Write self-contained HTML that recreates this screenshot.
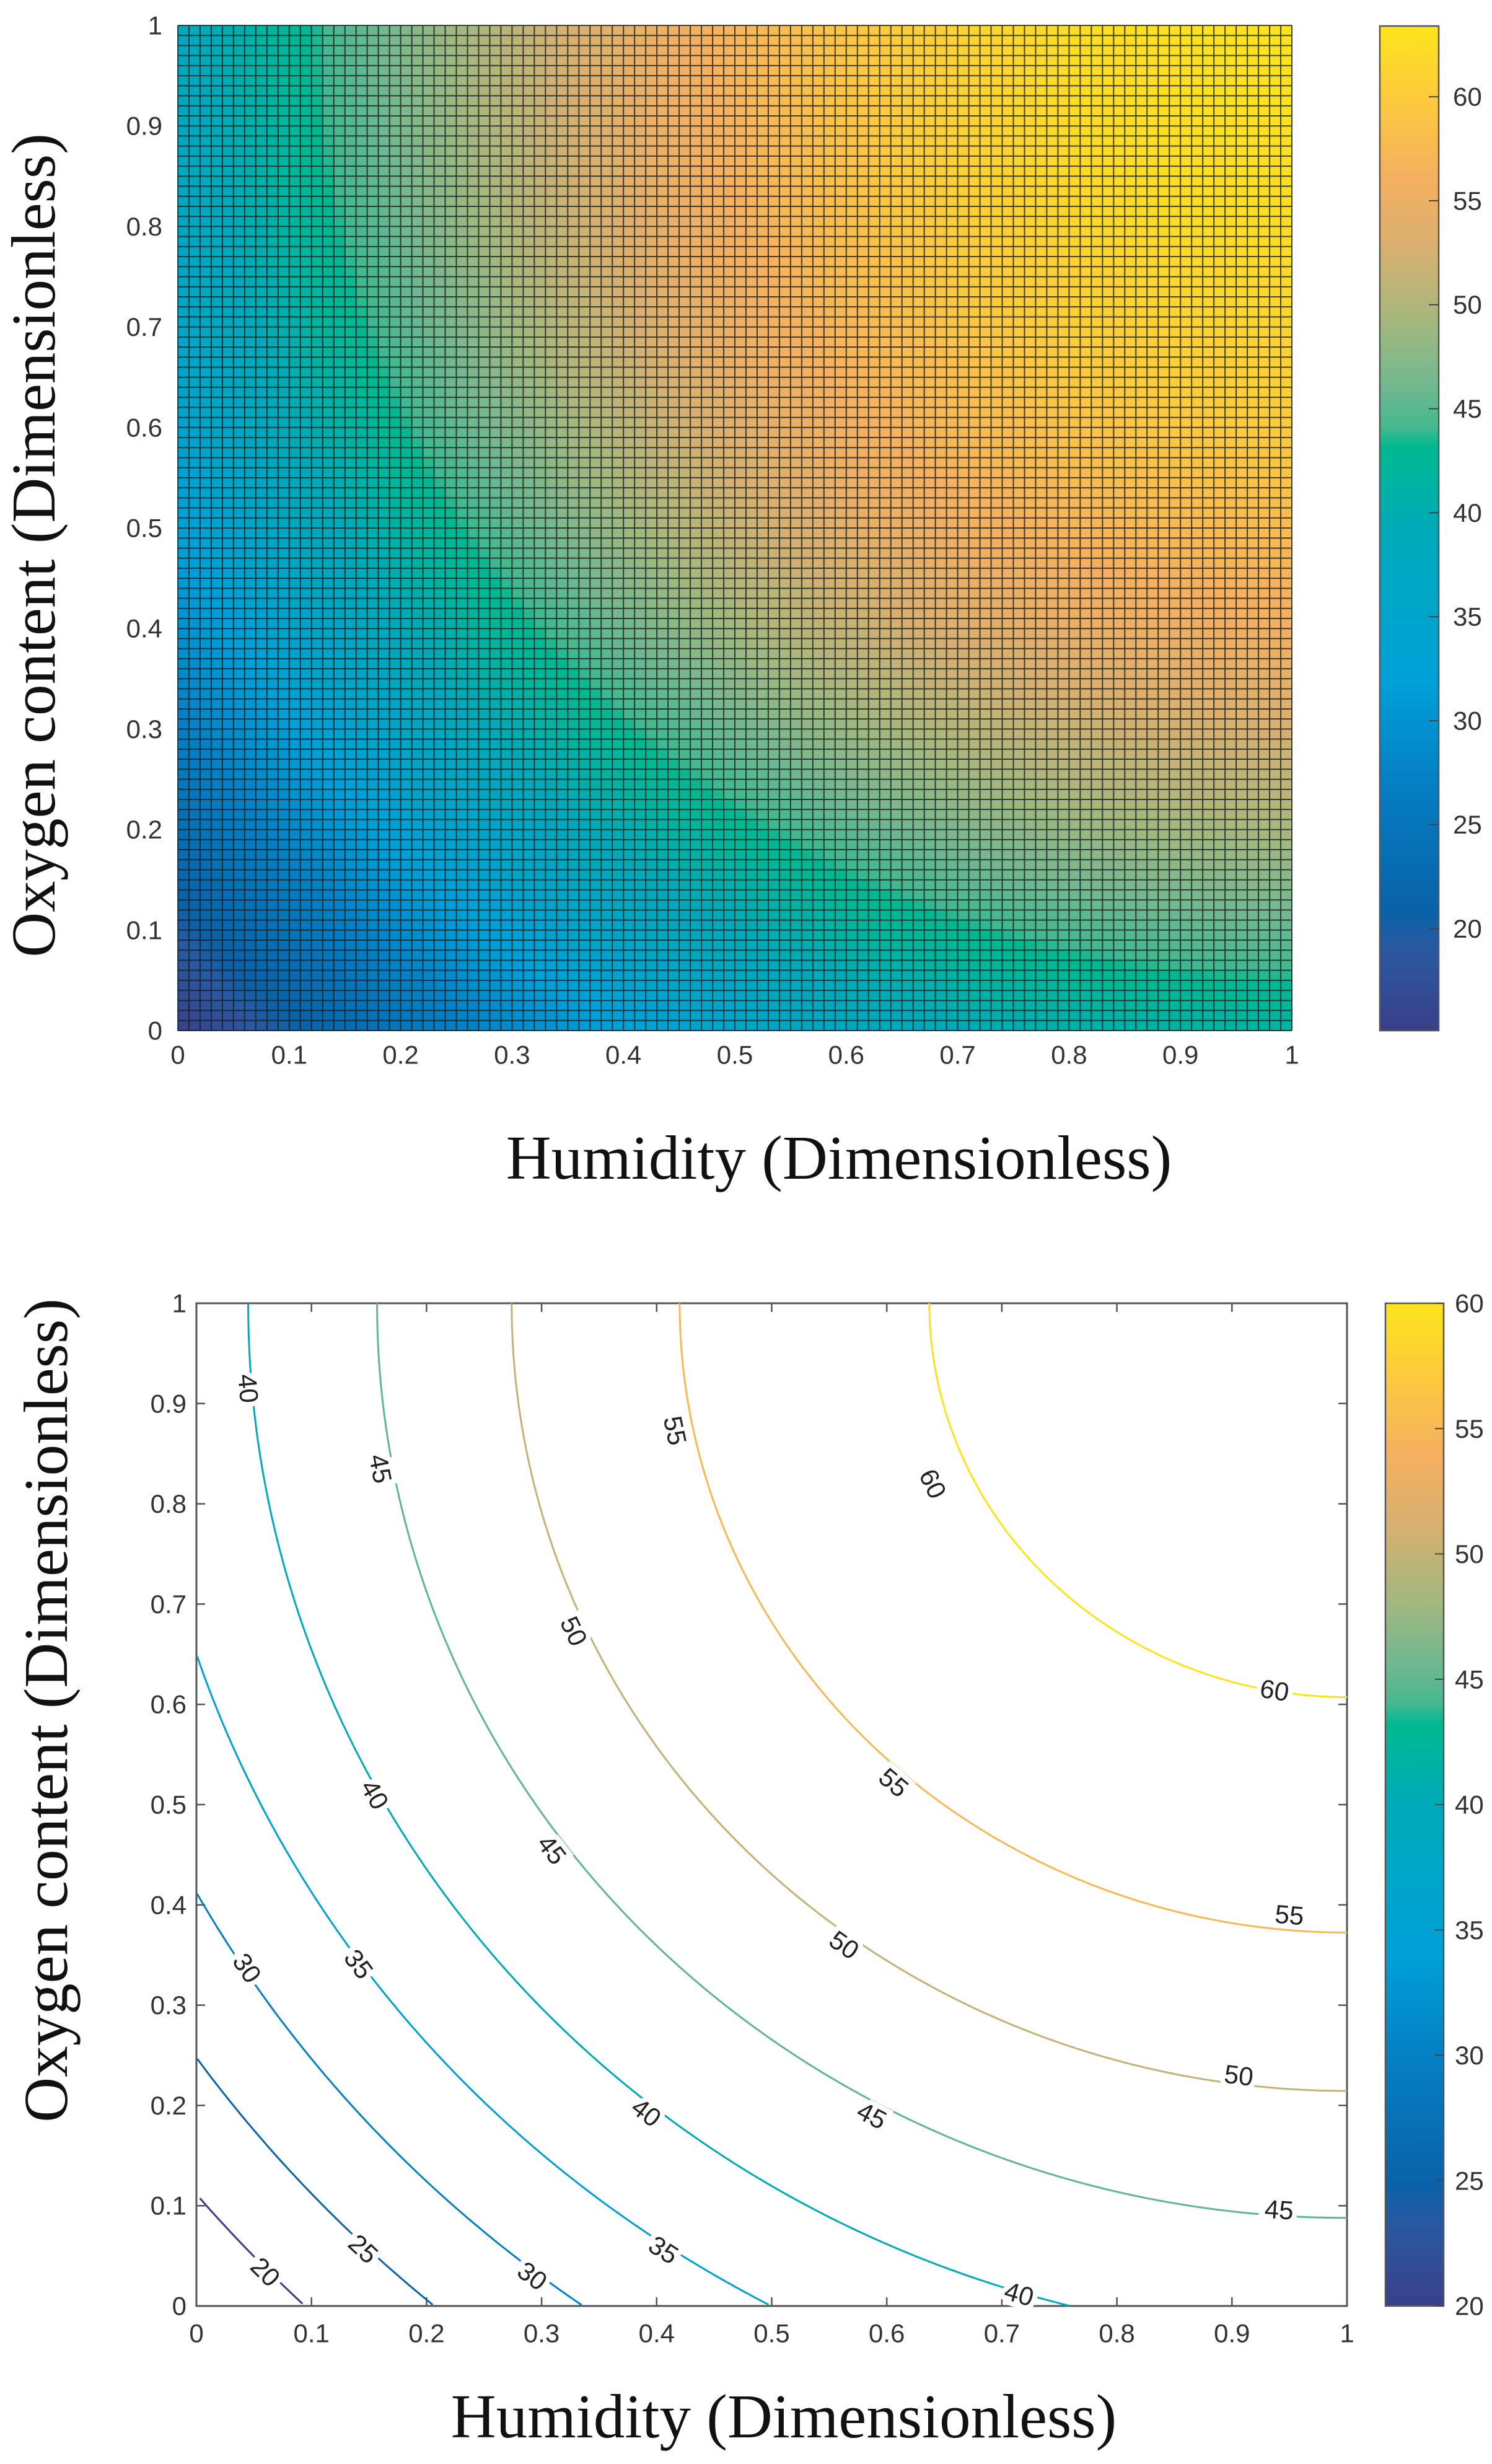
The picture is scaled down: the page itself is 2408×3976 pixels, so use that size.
<!DOCTYPE html>
<html><head><meta charset="utf-8">
<style>
html,body{margin:0;padding:0;background:#fff;}
svg{display:block;}
</style></head>
<body>
<svg id="s" width="2408" height="3976" viewBox="0 0 2408 3976" xmlns="http://www.w3.org/2000/svg">
<defs>
<linearGradient id="cb1" x1="0" y1="1" x2="0" y2="0"></linearGradient>
<linearGradient id="cb2" x1="0" y1="1" x2="0" y2="0"></linearGradient>
</defs>
<g id="heat"></g>
<g id="cont"></g>
<g id="txt" font-family="Liberation Sans, sans-serif" fill="#333"></g>
</svg>
<script>
var stops=[[0,[58,63,138]],[0.08,[42,88,160]],[0.12,[10,98,168]],[0.25,[5,128,196]],[0.35,[0,160,216]],[0.5,[0,170,184]],[0.57,[0,184,150]],[0.585,[0,184,144]],[0.595,[64,184,144]],[0.64,[112,184,144]],[0.7,[160,184,128]],[0.78,[216,176,112]],[0.85,[245,176,96]],[0.92,[252,200,64]],[1,[252,228,28]]];
function cmap(t){t=Math.max(0,Math.min(1,t));for(var i=1;i<stops.length;i++){if(t<=stops[i][0]){var a=stops[i-1],b=stops[i],f=(t-a[0])/(b[0]-a[0]);return 'rgb('+[0,1,2].map(function(k){return Math.round(a[1][k]+f*(b[1][k]-a[1][k]))}).join(',')+')';}}return 'rgb(252,228,28)';}
var B=1.082;
var hp=[[0,63.4],[0.2,62.4],[0.363,60],[0.58,55],[0.726,50],[0.843,45],[0.955,40],[1.051,35],[1.138,30],[1.218,25],[1.294,20],[1.362,15.2]];
function h(r){for(var i=1;i<hp.length;i++){if(r<=hp[i][0]){var a=hp[i-1],b=hp[i];return a[1]+(r-a[0])/(b[0]-a[0])*(b[1]-a[1]);}}return 15.2;}
function f(x,y){var u=1-x,v=(1-y)/B;return h(Math.sqrt(u*u+v*v));}
var rOf={60:0.363,55:0.58,50:0.726,45:0.843,40:0.955,35:1.051,30:1.138,25:1.218,20:1.294};
var S=[];
['cb1','cb2'].forEach(function(id){var g=document.getElementById(id),o='';for(var i=0;i<=100;i++){var t=i/100;o+='<stop offset="'+t+'" stop-color="'+cmap(t)+'"/>';}g.innerHTML=o;});
var L=287,T=41,R=2085,Bt=1663,W=R-L,H=Bt-T,N=100,cw=W/N,ch=H/N;
for(var i=0;i<N;i++)for(var j=0;j<N;j++){var x=(i+0.5)/N,y=(j+0.5)/N;var v=f(x,y);S.push('<rect x="'+(L+i*cw).toFixed(2)+'" y="'+(Bt-(j+1)*ch).toFixed(2)+'" width="'+(cw+0.6).toFixed(2)+'" height="'+(ch+0.6).toFixed(2)+'" fill="'+cmap((v-15.1)/(63.4-15.1))+'"/>');}
var p='';for(var i=0;i<=N;i++){var xx=(L+i*cw).toFixed(2);p+='M'+xx+' '+T+'V'+Bt;var yy=(T+i*ch).toFixed(2);p+='M'+L+' '+yy+'H'+R;}
S.push('<path d="'+p+'" stroke="rgb(20,30,30)" stroke-opacity="0.8" stroke-width="2" fill="none"/>');
S.push('<rect x="2227" y="42" width="95" height="1621" fill="url(#cb1)" stroke="#555" stroke-width="2.5"/>');
var L2=317,T2=2103,R2=2174,B2=3721,W2=R2-L2,H2=B2-T2;
S.push('<rect x="'+L2+'" y="'+T2+'" width="'+W2+'" height="'+H2+'" fill="#fff" stroke="#555" stroke-width="3"/>');
var tk='';for(var k=0;k<=10;k++){var xx=L2+k*W2/10,yy=B2-k*H2/10;tk+='M'+xx+' '+B2+'v-14M'+xx+' '+T2+'v14M'+L2+' '+yy+'h14M'+R2+' '+yy+'h-14';}
S.push('<path d="'+tk+'" stroke="#555" stroke-width="2.5" fill="none"/>');
S.push('<rect x="2236" y="2103" width="94" height="1618" fill="url(#cb2)" stroke="#555" stroke-width="2.5"/>');
var cbt='';for(var v=20;v<=60;v+=5){var yy=3721-(v-20)/40*1618;cbt+='M2330 '+yy+'h-14';}
S.push('<path d="'+cbt+'" stroke="#444" stroke-width="2" fill="none"/>');
var cbt1='';for(var v=20;v<=60;v+=5){var yy=1663-(v-15.1)/(63.4-15.1)*1621;cbt1+='M2322 '+yy+'h-16';}
S.push('<path d="'+cbt1+'" stroke="#444" stroke-width="2" fill="none"/>');
for(var lv in rOf){var r=rOf[lv],pts=[];for(var k=0;k<=400;k++){var th=k/400*Math.PI/2;var x=1-r*Math.cos(th),y=1-r*B*Math.sin(th);if(x<0||y<0||x>1||y>1)continue;pts.push((L2+x*W2).toFixed(1)+','+(B2-y*H2).toFixed(1));}
S.push('<polyline points="'+pts.join(' ')+'" fill="none" stroke="'+cmap((lv-20)/40)+'" stroke-width="3"/>');}
document.getElementById('heat').innerHTML=S.join('');
var X=[];
function t(x,y,s,anc,sz,extra){X.push('<text x="'+x+'" y="'+y+'" font-size="'+(sz||42)+'" text-anchor="'+(anc||'middle')+'" dominant-baseline="central" '+(extra||'')+'>'+s+'</text>');}
var lab=['0','0.1','0.2','0.3','0.4','0.5','0.6','0.7','0.8','0.9','1'];
for(var k=0;k<=10;k++){t(L+k*W/10,1702,lab[k]);t(262,Bt-k*H/10,lab[k],'end');t(L2+k*W2/10,3765,lab[k]);t(301,B2-k*H2/10,lab[k],'end');}
for(var v=20;v<=60;v+=5){t(2345,1663-(v-15.1)/(63.4-15.1)*1621,v,'start');t(2348,3721-(v-20)/40*1618,v,'start');}
var cl=[[40,.045,.915],[45,.16,.835],[55,.416,.873],[60,.64,.82],[50,.328,.673],[60,.937,.614],[40,.155,.51],[45,.309,.455],[55,.606,.522],[30,.044,.337],[35,.141,.341],[50,.563,.36],[55,.95,.39],[40,.391,.193],[45,.587,.19],[50,.906,.23],[25,.145,.057],[20,.06,.034],[30,.292,.03],[35,.406,.056],[40,.715,.012],[45,.941,.096]];
cl.forEach(function(c){var u=1-c[1],v=(1-c[2])/B;var dx=v/B*W2,dy=u*H2;var a=Math.atan2(dy,dx)*180/Math.PI;var px=L2+c[1]*W2,py=B2-c[2]*H2;
X.push('<text x="'+px.toFixed(1)+'" y="'+py.toFixed(1)+'" font-size="42" text-anchor="middle" dominant-baseline="central" fill="#222" stroke="#fff" stroke-width="16" paint-order="stroke" transform="rotate('+a.toFixed(1)+' '+px.toFixed(1)+' '+py.toFixed(1)+')">'+c[0]+'</text>');});
X.push('<text x="1354" y="1902" font-family="Liberation Serif, serif" font-size="101" fill="#111" text-anchor="middle">Humidity (Dimensionless)</text>');
X.push('<text x="1265" y="3933" font-family="Liberation Serif, serif" font-size="101" fill="#111" text-anchor="middle">Humidity (Dimensionless)</text>');
X.push('<text transform="translate(88 880) rotate(-90)" font-family="Liberation Serif, serif" font-size="101" fill="#111" text-anchor="middle">Oxygen content (Dimensionless)</text>');
X.push('<text transform="translate(108 2760) rotate(-90)" font-family="Liberation Serif, serif" font-size="101" fill="#111" text-anchor="middle">Oxygen content (Dimensionless)</text>');
document.getElementById('txt').innerHTML=X.join('');
</script>
</body></html>
